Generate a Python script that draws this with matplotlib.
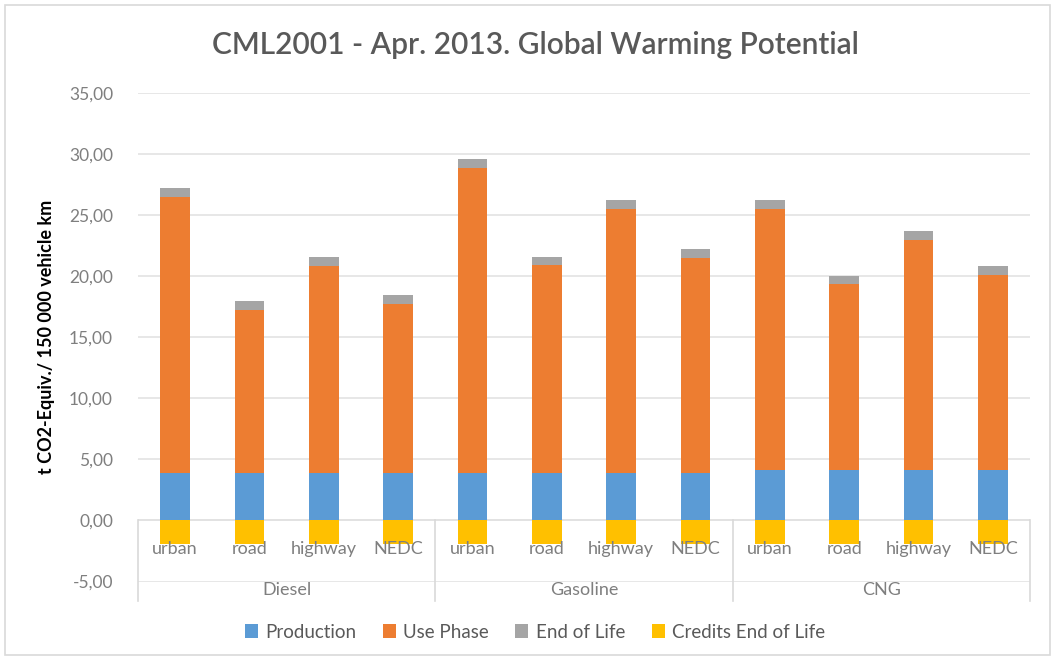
import matplotlib.pyplot as plt
from matplotlib.patches import Rectangle
import numpy as np

plt.rcParams['font.family'] = ['Lato', 'DejaVu Sans']

# data
fuels = ['Diesel', 'Gasoline', 'CNG']
cycles = ['urban', 'road', 'highway', 'NEDC']
production = [3.9, 3.9, 3.9, 3.9, 3.9, 3.9, 3.9, 3.9, 4.1, 4.1, 4.1, 4.1]
use_phase = [22.6, 13.35, 16.95, 13.85, 24.95, 17.0, 21.6, 17.6, 21.4, 15.3, 18.9, 16.0]
end_of_life = [0.7, 0.7, 0.7, 0.7, 0.75, 0.7, 0.7, 0.7, 0.7, 0.65, 0.7, 0.7]
credits_eol = [-1.9] * 12

series = ['Production', 'Use Phase', 'End of Life', 'Credits End of Life']
colors = ['#5B9BD5', '#ED7D31', '#A5A5A5', '#FFC000']

my_dpi = 100
fig = plt.figure(figsize=(1055/my_dpi, 661/my_dpi), dpi=my_dpi)
ax = fig.add_axes([138/1055, 1 - 581.5/661, (1030 - 138)/1055, (581.5 - 93)/661])

x = np.arange(len(production))
w = 0.4
prod = np.array(production)
use = np.array(use_phase)
eol = np.array(end_of_life)
ax.bar(x, prod, w, color=colors[0], label=series[0], zorder=3)
ax.bar(x, use, w, bottom=prod, color=colors[1], label=series[1], zorder=3)
ax.bar(x, eol, w, bottom=prod + use, color=colors[2], label=series[2], zorder=3)
ax.bar(x, credits_eol, w, color=colors[3], label=series[3], zorder=3)

ax.set_xlim(-0.5, len(x) - 0.5)
ax.set_ylim(-5, 35)
yt = np.arange(-5, 36, 5)
ax.set_yticks(yt)
ax.set_yticklabels([f'{v:.2f}'.replace('.', ',') for v in yt], color='#7F7F7F', fontsize=12.5)
ax.tick_params(axis='y', length=0, pad=18)
ax.set_xticks([])
for s in ax.spines.values():
    s.set_visible(False)
ax.grid(axis='y', color='#E3E3E3', linewidth=1.2, zorder=0)
ax.axhline(0, color='#D9D9D9', linewidth=1.2, zorder=1)

# category axis: cycle labels, fuel labels and separators
for i in x:
    ax.text(i, -2.3, cycles[i % 4], ha='center', va='center', fontsize=13, color='#7F7F7F')
for g, f in enumerate(fuels):
    ax.text(g * 4 + 1.5, -5.7, f, ha='center', va='center', fontsize=13, color='#7F7F7F', clip_on=False)
for b in [-0.5, 3.5, 7.5, 11.5]:
    ax.plot([b, b], [0, -6.6], color='#D9D9D9', linewidth=1.2, clip_on=False)

ax.set_ylabel('t CO2-Equiv./ 150 000 vehicle km', fontsize=13, fontweight='bold', color='black', labelpad=10)
fig.text(535/1055, 1 - 45/661, 'CML2001 - Apr. 2013. Global Warming Potential',
         ha='center', va='center', fontsize=21.5, fontweight='semibold', color='#595959')

leg = fig.legend(loc='center', bbox_to_anchor=(535/1055, 1 - 632/661), ncol=4, frameon=False,
                 fontsize=13.5, handlelength=0.7, handleheight=0.7, columnspacing=1.4, handletextpad=0.4)
for t in leg.get_texts():
    t.set_color('#595959')

fig.patches.append(Rectangle((5/1055, 6/661), 1045/1055, 650/661, transform=fig.transFigure,
                             fill=False, edgecolor='#D9D9D9', linewidth=1.2))

plt.savefig('out.png', dpi=my_dpi)
